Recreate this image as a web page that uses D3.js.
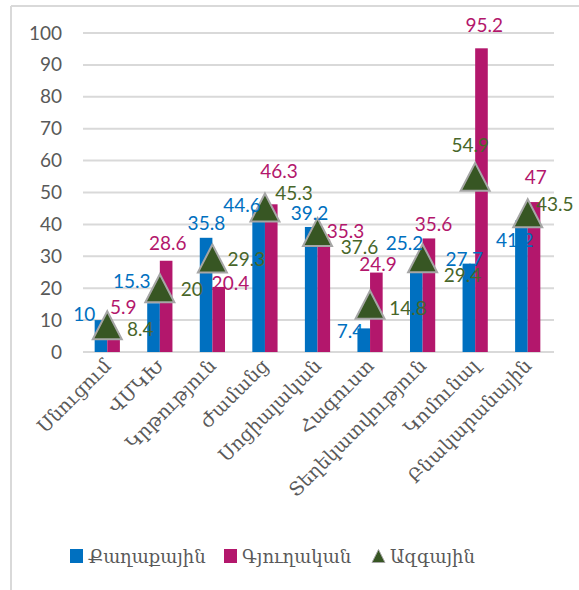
<!DOCTYPE html>
<html>
<head>
<meta charset="utf-8">
<script src="https://cdnjs.cloudflare.com/ajax/libs/d3/7.8.5/d3.min.js"></script>
<style>
  body { margin: 0; background: #fff; }
  svg { display: block; }
</style>
</head>
<body>
<svg id="chart" width="579" height="590"></svg>
<script>
// chart data
var categories = ["Սնուցում", "ՎՄԿԽ", "Կրթություն", "Ժամանց", "Սոցիալական",
  "Հագուստ", "Տեղեկատվություն", "Կոմունալ", "Բնակարանային"];
var seriesNames = ["Քաղաքային", "Գյուղական", "Ազգային"];
var urban = [10, 15.3, 35.8, 44.6, 39.2, 7.4, 25.2, 27.7, 41.2];
var rural = [5.9, 28.6, 20.4, 46.3, 35.3, 24.9, 35.6, 95.2, 47];
var national = [8.4, 20, 29.3, 45.3, 37.6, 14.8, 29.4, 54.9, 43.5];
var yTicks = [0, 10, 20, 30, 40, 50, 60, 70, 80, 90, 100];

// hand-moved data labels in the original, offsets from their anchor [dx, dy]
var urbanNudge = [[-23,-7],[-28,-23],[-6,-15],[-23,-5],[-8,-14],[-20,2],[-18,-29],[-11,-5],[-13,19]];
var ruralNudge = [[16,-27],[8,-18],[18,-4],[14,-34],[28,-9],[8,-9],[11,-15],[9,-24],[8,-26]];
var nationalNudge = [[33,3],[32,0],[34,0],[29,-15],[42,14],[38,3],[40,16],[-5,-32],[27,-10]];

var colors = {blue: "#0070c0", pink: "#b3176c", green: "#375623", greenText: "#48662a"};
var numFont = "Lato, 'Open Sans', sans-serif"
  , armFont = "'DejaVu Serif', serif";

var svg = d3.select("#chart");

// outer frame (only left and top are visible)
svg.append("line").attr("x1", 11).attr("x2", 11).attr("y1", 6).attr("y2", 590)
  .attr("stroke", "#d9d9d9").attr("stroke-width", 2);
svg.append("line").attr("x1", 11).attr("x2", 579).attr("y1", 6).attr("y2", 6)
  .attr("stroke", "#d9d9d9").attr("stroke-width", 2);

var x = d3.scaleBand().domain(categories).range([81, 554]).padding(0);
var y = d3.scaleLinear().domain([0, 100]).range([352, 33]);
var barW = x.bandwidth() * 0.24;
var cx = function(d){ return x(d) + x.bandwidth() / 2; };

// gridlines
svg.append("g").selectAll("line")
  .data(yTicks)
  .enter().append("line")
  .attr("x1", 83).attr("x2", 554)
  .attr("y1", d => y(d)).attr("y2", d => y(d))
  .attr("stroke", "#d9d9d9").attr("stroke-width", 2);

// y axis labels
var yAxis = svg.append("g").attr("transform", "translate(62,0)")
  .call(d3.axisLeft(y).tickValues(yTicks).tickSize(0).tickPadding(0));
yAxis.select(".domain").remove();
yAxis.selectAll("text")
  .attr("font-family", numFont).attr("font-size", 19).attr("fill", "#595959");

// bars
svg.append("g").selectAll("rect")
  .data(categories)
  .enter().append("rect")
  .attr("x", d => cx(d) - barW)
  .attr("y", (d,i) => y(urban[i]))
  .attr("width", barW)
  .attr("height", (d,i) => y(0) - y(urban[i]))
  .attr("fill", colors.blue);
svg.append("g").selectAll("rect")
  .data(categories)
  .enter().append("rect")
  .attr("x", d => cx(d))
  .attr("y", (d,i) => y(rural[i]))
  .attr("width", barW)
  .attr("height", (d,i) => y(0) - y(rural[i]))
  .attr("fill", colors.pink);

// triangle markers
function tri(w, h){
  return "M0," + (-h/2) + "L" + (w/2) + "," + (h/2) + "L" + (-w/2) + "," + (h/2) + "Z";
}
svg.append("g").selectAll("path")
  .data(categories)
  .enter().append("path")
  .attr("d", tri(29, 28))
  .attr("transform", (d,i) => "translate(" + cx(d) + "," + y(national[i]) + ")")
  .attr("fill", colors.green)
  .attr("stroke", "#a6a6a6").attr("stroke-width", 2)
  .attr("stroke-linejoin", "miter");

// data labels
function addLabels(values, nudge, color){
  svg.append("g").selectAll("text")
    .data(categories)
    .enter().append("text")
    .attr("x", (d,i) => cx(d) + nudge[i][0])
    .attr("y", (d,i) => y(values[i]) + nudge[i][1])
    .attr("text-anchor", "middle")
    .attr("dominant-baseline", "central")
    .attr("font-family", numFont).attr("font-size", 19)
    .attr("fill", color)
    .text((d,i) => values[i]);
}
addLabels(urban, urbanNudge, colors.blue);
addLabels(rural, ruralNudge, colors.pink);
addLabels(national, nationalNudge, colors.greenText);

// category labels, rotated
svg.append("g").selectAll("text")
  .data(categories)
  .enter().append("text")
  .attr("transform", d => "translate(" + (cx(d) + 5) + ",367) rotate(-45)")
  .attr("text-anchor", "end")
  .attr("font-family", armFont).attr("font-size", 19)
  .attr("fill", "#595959")
  .text(d => d);

// legend
var legend = svg.append("g").attr("transform", "translate(0,556)");
var legendItems = [
  {name: seriesNames[0], x: 70, type: "rect", color: colors.blue},
  {name: seriesNames[1], x: 224, type: "rect", color: colors.pink},
  {name: seriesNames[2], x: 372, type: "tri", color: colors.green}
];
legendItems.forEach(function(d){
  if (d.type === "rect") {
    legend.append("rect").attr("x", d.x).attr("y", -7).attr("width", 13).attr("height", 14)
      .attr("fill", d.color);
  } else {
    legend.append("path").attr("d", tri(13, 13))
      .attr("transform", "translate(" + (d.x + 6.5) + ",0)")
      .attr("fill", d.color).attr("stroke", "#a6a6a6").attr("stroke-width", 1);
  }
  legend.append("text")
    .attr("x", d.x + 18).attr("y", 0)
    .attr("dominant-baseline", "central")
    .attr("font-family", armFont).attr("font-size", 18)
    .attr("fill", "#595959")
    .text(d.name);
});
</script>
</body>
</html>
